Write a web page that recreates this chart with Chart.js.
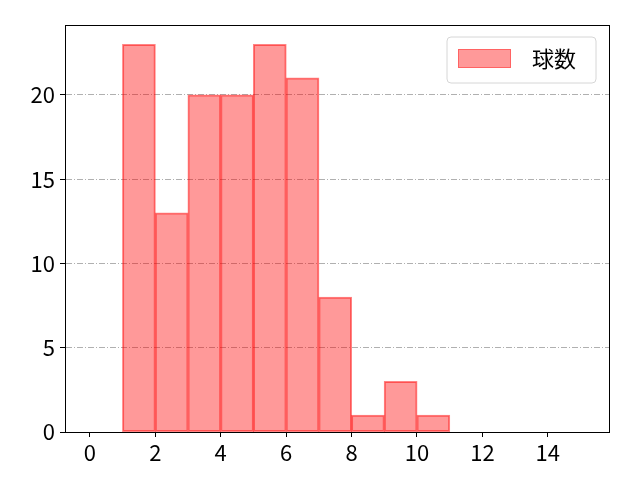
<!DOCTYPE html>
<html>
<head>
<meta charset="utf-8">
<script src="https://cdn.jsdelivr.net/npm/chart.js@4"></script>
<style>
  html, body { margin: 0; padding: 0; background: #fff; }
  #wrap { width: 640px; height: 480px; }
</style>
</head>
<body>
<div id="wrap"><canvas id="c" width="640" height="480"></canvas></div>
<script>
// histogram bins (width 1) and counts
const binStarts = [0, 1, 2, 3, 4, 5, 6, 7, 8, 9, 10, 11, 12, 13, 14];
const counts    = [0, 23, 13, 20, 20, 23, 21, 8, 1, 3, 1, 0, 0, 0, 0];
const seriesLabel = '球数';
const xTicks = [0, 2, 4, 6, 8, 10, 12, 14];
const yTicks = [0, 5, 10, 15, 20];

const FONT = '"Noto Sans CJK JP", "DejaVu Sans", sans-serif';

const histData = [];
binStarts.forEach((s, i) => {
    if (counts[i] > 0) histData.push({ x: s + 0.5, y: counts[i] });
});

// frame + legend drawn like matplotlib
const frameLegendPlugin = {
    id: 'frameLegend',
    afterDraw: (chart) => {
        const ctx = chart.ctx;
        const a = chart.chartArea;
        ctx.save();
        ctx.strokeStyle = '#000';
        ctx.lineWidth = 1;
        ctx.strokeRect(a.left + 0.5, a.top + 0.5, a.right - a.left, a.bottom - a.top);

        // legend box
        const bx = 447, by = 37, bw = 149, bh = 46, r = 4;
        ctx.beginPath();
        ctx.moveTo(bx + r, by);
        ctx.arcTo(bx + bw, by, bx + bw, by + bh, r);
        ctx.arcTo(bx + bw, by + bh, bx, by + bh, r);
        ctx.arcTo(bx, by + bh, bx, by, r);
        ctx.arcTo(bx, by, bx + bw, by, r);
        ctx.closePath();
        ctx.fillStyle = 'rgba(255,255,255,0.8)';
        ctx.fill();
        ctx.strokeStyle = '#d6d6d6';
        ctx.stroke();

        const ds = chart.data.datasets[0];
        ctx.fillStyle = ds.backgroundColor;
        ctx.fillRect(458, 49, 53, 19);
        ctx.strokeStyle = 'rgba(255, 0, 0, 0.35)';
        ctx.strokeRect(458.5, 49.5, 52, 18);

        ctx.fillStyle = '#000';
        ctx.font = '22px ' + FONT;
        ctx.textBaseline = 'middle';
        ctx.fillText(ds.label, 532, 59);
        ctx.restore();
    }
};

new Chart(document.getElementById('c').getContext('2d'), {
    type: 'bar',
    data: {
        datasets: [{
            label: seriesLabel,
            data: histData,
            backgroundColor: 'rgba(255, 0, 0, 0.4)',
            borderColor: 'rgba(255, 0, 0, 0.48)',
            borderWidth: 1,
            borderSkipped: false,
            inflateAmount: 0.5,
            barPercentage: 1,
            categoryPercentage: 1
        }]
    },
    options: {
        responsive: false,
        animation: false,
        devicePixelRatio: 1,
        layout: { padding: { top: 25, right: 31, left: 0, bottom: 0 } },
        plugins: { legend: { display: false }, tooltip: { enabled: false } },
        scales: {
            x: {
                type: 'linear',
                offset: false,
                min: -0.76,
                max: 15.87,
                afterBuildTicks: (s) => { s.ticks = xTicks.map(v => ({ value: v })); },
                afterFit: (s) => { s.height = 48; },
                grid: { offset: false, drawOnChartArea: false, tickLength: 5, color: '#000', tickColor: '#000' },
                border: { color: '#000', width: 1 },
                ticks: { color: '#000', font: { family: FONT, size: 22 }, padding: 2, maxRotation: 0, autoSkip: false }
            },
            y: {
                min: 0,
                max: 24.15,
                afterBuildTicks: (s) => { s.ticks = yTicks.map(v => ({ value: v })); },
                afterFit: (s) => { s.width = 65; },
                grid: {
                    tickLength: 5,
                    color: (c) => (c.tick && c.tick.value === 0) ? 'rgba(0,0,0,0)' : '#b0b0b0',
                    tickColor: '#000',
                    tickBorderDash: [],
                    lineWidth: 1
                },
                border: { color: '#000', width: 1, dash: [6, 2, 1, 2] },
                ticks: { color: '#000', font: { family: FONT, size: 22 }, padding: 5 }
            }
        }
    },
    plugins: [frameLegendPlugin]
});
</script>
</body>
</html>
